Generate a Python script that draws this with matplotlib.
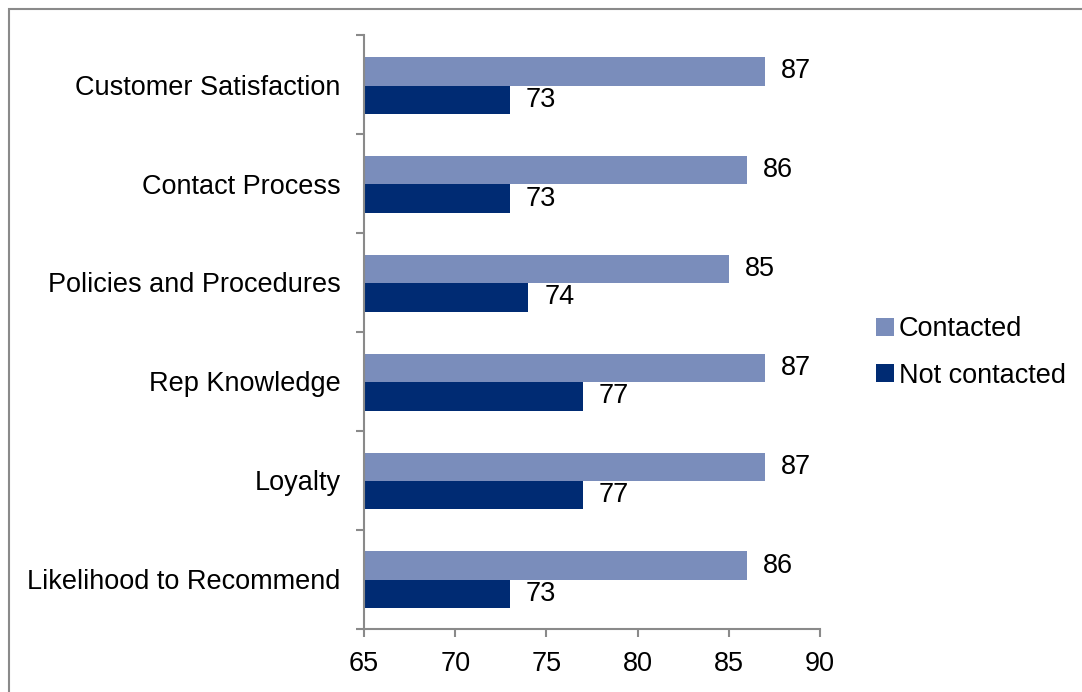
import numpy as np
import matplotlib.pyplot as plt
from matplotlib.patches import Rectangle

plt.rcParams['font.family'] = ['Liberation Sans', 'DejaVu Sans']

categories = ["Customer Satisfaction", "Contact Process", "Policies and Procedures",
              "Rep Knowledge", "Loyalty", "Likelihood to Recommend"]
contacted = [87, 86, 85, 87, 87, 86]
not_contacted = [73, 73, 74, 77, 77, 73]

c_light = '#7A8DBB'
c_dark = '#002B73'
grey = '#8A8A8A'
fs = 19.5

fig = plt.figure(figsize=(10.82, 6.92), dpi=100)
ax = fig.add_axes([364 / 1082, 1 - 628.5 / 692, 456 / 1082, (628.5 - 35.3) / 692])

n = len(categories)
pos = np.arange(n)[::-1]
h = 0.288

b1 = ax.barh(pos + h / 2 - 0.008, contacted, height=h, color=c_light, label='Contacted')
b2 = ax.barh(pos - h / 2 - 0.008, not_contacted, height=h, color=c_dark, label='Not contacted')
ax.bar_label(b1, padding=11.5, fontsize=fs)
ax.bar_label(b2, padding=11.5, fontsize=fs)

ax.set_xlim(65, 90)
ax.set_ylim(-0.5, n - 0.5)
ax.set_xticks(np.arange(65, 91, 5))
ax.set_yticks(pos)
ax.set_yticklabels(categories)
ax.set_yticks(np.arange(-0.5, n, 1.0), minor=True)

for s in ['top', 'right']:
    ax.spines[s].set_visible(False)
for s in ['left', 'bottom']:
    ax.spines[s].set_color(grey)
    ax.spines[s].set_linewidth(1.5)

ax.tick_params(axis='y', which='major', length=0, pad=17, labelsize=fs)
ax.tick_params(axis='y', which='minor', length=6, width=1.5, color=grey)
ax.tick_params(axis='x', length=6, width=1.5, color=grey, pad=10, labelsize=fs)

fig.legend(handles=[b1, b2], loc='center left', bbox_to_anchor=(876 / 1082, 1 - 352.5 / 692),
           frameon=False, fontsize=fs, handlelength=0.65, handleheight=0.65,
           handletextpad=0.2, labelspacing=0.75, borderpad=0, borderaxespad=0)

# outer chart frame
fig.patches.append(Rectangle((8.5 / 1082, -0.1), 1.2, 1.1 - 9.5 / 692, transform=fig.transFigure,
                             fill=False, edgecolor=grey, linewidth=1.5))

fig.savefig('out.png', dpi=100)
